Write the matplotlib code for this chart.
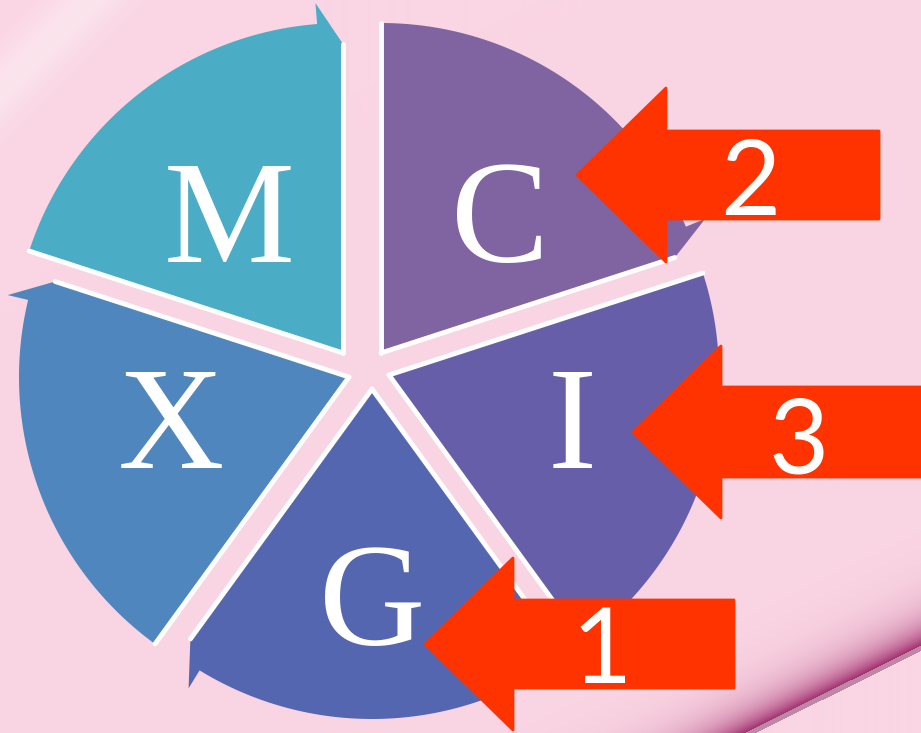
import numpy as np
import matplotlib.pyplot as plt
from matplotlib.patches import Polygon

## segments of the cycle, clockwise from the top-left one
labels = ['M', 'C', 'I', 'G', 'X']
shares = [1, 1, 1, 1, 1]
colors = ['#4BACC6', '#8064A2', '#675EA9', '#5566B0', '#4F86BE']

## red call-out arrows: number shown and the segment it points at
arrow_nums = ['2', '3', '1']
arrow_targets = ['C', 'I', 'G']

W, H = 921, 733
fig = plt.figure(figsize=(W / 100, H / 100), dpi=100)
ax = fig.add_axes([0, 0, 1, 1])
ax.set_xlim(0, W)
ax.set_ylim(H, 0)
ax.axis('off')

## pink paper background with the folded edge in the bottom right corner
yy, xx = np.mgrid[0:H, 0:W].astype(float)
bg = np.ones((H, W, 3)) * np.array([250, 213, 227]) / 255
p1 = np.array([750., 732.])
d = np.array([171., -85.])
n = np.array([-d[1], d[0]]) / np.hypot(*d)
n = -n if n[1] > 0 else n
s = (xx - p1[0]) * n[0] + (yy - p1[1]) * n[1]
shade = np.where(s > 2, np.exp(-(s - 2) / 20.0), 0.0) * 0.9
mag = np.array([150, 25, 95]) / 255
bg = bg * (1 - shade[..., None]) + mag * shade[..., None]
edge = np.abs(s) <= 2.5
bg[edge] = np.array([190, 135, 165]) / 255
## faint light streak in the top-left corner
glow = np.exp(-((xx + yy - 90) / 40.0) ** 2) * 0.35
bg = bg * (1 - glow[..., None]) + glow[..., None]
ax.imshow(bg, extent=[0, W, H, 0], zorder=0)

## wedge geometry (screen pixels)
R = 330
apex = {'M': (343, 353), 'C': (381, 353), 'I': (389, 375),
        'G': (372, 389), 'X': (349, 377)}
label_pos = {'M': (229, 262), 'C': (500, 262), 'I': (572, 468),
             'G': (372, 645), 'X': (171, 468)}

def pt(c, r, a):
    t = np.radians(a)
    return (c[0] + r * np.cos(t), c[1] - r * np.sin(t))

cum = np.cumsum([0] + shares[:-1]) / sum(shares) * 360
for lab, col, c0, sh in zip(labels, colors, cum, shares):
    hi = 162 - c0
    lo = hi - sh / sum(shares) * 360
    c = apex[lab]
    pts = [c, pt(c, R - 21, lo), pt(c, R + 21, lo + 4.5)]
    pts += [pt(c, R, a) for a in np.linspace(lo + 4.5, hi, 120)]
    ax.add_patch(Polygon(pts, closed=True, fc=col, ec='none', zorder=2))
    # white rims on the straight edges
    for a, r in ((lo, R - 21), (hi, R)):
        q = pt(c, r, a)
        ax.plot([c[0], q[0]], [c[1], q[1]], color='white', lw=3.5,
                solid_capstyle='round', zorder=3)
    ax.text(*label_pos[lab], lab, color='white', fontsize=106,
            family='Liberation Serif', ha='center', va='baseline', zorder=4)

## call-out arrows: tip, head base x, head half height, shaft half height, end x
arrow_geom = {'C': ((577, 175), 666, 87, 44, 879),
              'I': ((633, 432), 721, 86, 45, 935),
              'G': ((425, 644), 513, 86, 44, 734)}
num_pos = {'C': (750, 215), 'I': (799, 473), 'G': (602, 683)}
for num, tgt in zip(arrow_nums, arrow_targets):
    (tx, ty), hx, hh, sh, xr = arrow_geom[tgt]
    pts = [(tx, ty), (hx, ty - hh), (hx, ty - sh), (xr, ty - sh),
           (xr, ty + sh), (hx, ty + sh), (hx, ty + hh)]
    ax.add_patch(Polygon(pts, closed=True, fc='#FF3300', ec='#FF3300',
                         lw=2, joinstyle='round', zorder=5))
    ax.text(*num_pos[tgt], num, color='white', fontsize=75, family='Lato',
            ha='center', va='baseline', zorder=6)

fig.savefig('out.png', dpi=100)
